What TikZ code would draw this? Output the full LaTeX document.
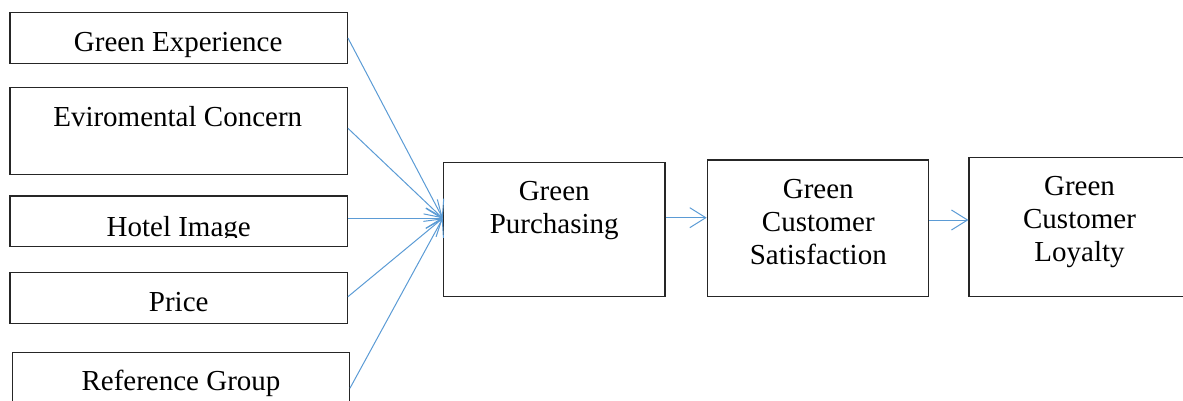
\documentclass[tikz,border=0pt]{standalone}
\usepackage{fontspec}
\setmainfont{Liberation Serif}
\usetikzlibrary{arrows.meta}
\definecolor{arrblue}{HTML}{5B9BD5}
\definecolor{boxline}{HTML}{262626}
\begin{document}
\begin{tikzpicture}[x=1pt,y=-1pt,
  box/.style={draw=boxline,line width=1.2pt,fill=none,inner sep=0pt,minimum width=#1},
  box/.default=337.3pt,
  lbl/.style={anchor=base,inner sep=0pt,font=\fontsize{29}{33.3}\selectfont},
  arr/.style={draw=arrblue,line width=1pt,-{Straight Barb[length=16pt,width=20pt,line width=1pt]}}]
\useasboundingbox (0,0) rectangle (1183,401);
% left boxes
\node[box,minimum height=50.6pt] (ge) at (178.7,38) {};
\node[box,minimum height=86.6pt] (ec) at (178.7,131) {};
\node[box,minimum height=50.7pt] (hi) at (178.7,221.3) {};
\node[box,minimum height=50.6pt] (pr) at (178.7,298) {};
\node[box=336.6pt,minimum height=50.7pt] (rg) at (181,377.7) {};
% right boxes
\node[box=221.7pt,minimum height=134.4pt] (gp) at (554.2,229.5) {};
\node[box=221.4pt,minimum height=136.7pt] (gcs) at (818,228.3) {};
\node[box=221pt,minimum height=139.4pt] (gcl) at (1079.5,227) {};
% labels
\node[lbl] (tge) at (178.2,51.7) {Green Experience};
\node[lbl] (tec) at (177.7,126.7) {Eviromental Concern};
\begin{scope}
\clip (10,196) rectangle (347.3,237.4);
\node[lbl] (thi) at (178.7,236) {Hotel Image};
\end{scope}
\node[lbl] (tpr) at (178.7,311) {Price};
\node[lbl] (trg) at (181,390) {Reference Group};
\node[lbl] (tgp) at (554.2,200) {\begin{tabular}[t]{@{}c@{}}Green\\Purchasing\end{tabular}};
\node[lbl] (tgcs) at (818.3,198.3) {\begin{tabular}[t]{@{}c@{}}Green\\Customer\\Satisfaction\end{tabular}};
\node[lbl] (tgcl) at (1079.5,195) {\begin{tabular}[t]{@{}c@{}}Green\\Customer\\Loyalty\end{tabular}};
% connectors
\coordinate (conv) at ([yshift=11.2pt]gp.west);
\draw[arr] (ge.east) -- (conv);
\draw[arr] ([yshift=2.7pt]ec.east) -- (conv);
\draw[arr] (hi.east |- conv) -- (conv);
\draw[arr] ([yshift=1.3pt]pr.east) -- (conv);
\draw[arr] ([yshift=-10.6pt]rg.east) -- (conv);
\draw[arr] ([yshift=11.8pt]gp.east) -- ([yshift=10.6pt]gcs.west);
\draw[arr] ([yshift=8.3pt]gcs.east) -- ([yshift=7pt]gcl.west);
\end{tikzpicture}
\end{document}
